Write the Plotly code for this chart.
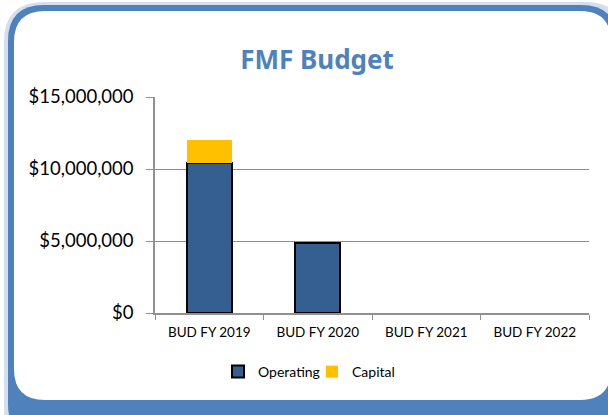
import plotly.graph_objects as go

categories = ["BUD FY 2019", "BUD FY 2020", "BUD FY 2021", "BUD FY 2022"]
operating = [10450000, 4870000, None, None]
capital = [1550000, None, None, None]
y_ticks = [0, 5000000, 10000000, 15000000]
y_tick_labels = ["\u200b$0", "\u200b$5,000,000", "\u200b$10,000,000", "\u200b$15,000,000"]

W, H = 608, 415
L, R, T, B = 155, 19, 97, 102
pw, ph = W - L - R, H - T - B


def px(x):
    return (x - L) / pw


def py(y):
    return (H - B - y) / ph


def rrect(x0, y0, x1, y1, r):
    pts = [
        f"M {px(x0 + r)},{py(y0)}",
        f"L {px(x1 - r)},{py(y0)}",
        f"Q {px(x1)},{py(y0)} {px(x1)},{py(y0 + r)}",
        f"L {px(x1)},{py(y1 - r)}",
        f"Q {px(x1)},{py(y1)} {px(x1 - r)},{py(y1)}",
        f"L {px(x0 + r)},{py(y1)}",
        f"Q {px(x0)},{py(y1)} {px(x0)},{py(y1 - r)}",
        f"L {px(x0)},{py(y0 + r)}",
        f"Q {px(x0)},{py(y0)} {px(x0 + r)},{py(y0)}",
        "Z",
    ]
    return " ".join(pts)


fig = go.Figure()
fig.add_trace(go.Bar(
    x=categories, y=operating, name="Operating", legend="legend",
    marker=dict(color="#365F91", line=dict(color="#000000", width=2)),
))
fig.add_trace(go.Bar(
    x=categories, y=capital, name="Capital", legend="legend2",
    marker=dict(color="#FFC000", line=dict(width=0)),
))

shapes = [
    dict(type="path", path=rrect(4, 2, 625, 450, 40), xref="paper", yref="paper",
         fillcolor="#D3DFEF", line=dict(width=0), layer="below"),
    dict(type="path", path=rrect(8, 5, 617, 440, 36), xref="paper", yref="paper",
         fillcolor="#4F81BD", line=dict(width=0), layer="below"),
    dict(type="path", path=rrect(14, 11, 611, 400, 31), xref="paper", yref="paper",
         fillcolor="#FFFFFF", line=dict(width=0), layer="below"),
]

legend_common = dict(orientation="h", yanchor="middle", y=py(372), xanchor="left",
                     font=dict(size=14), bgcolor="rgba(0,0,0,0)", borderwidth=0)

fig.update_layout(
    width=W, height=H,
    margin=dict(l=L, r=R, t=T, b=B, pad=0),
    paper_bgcolor="#FFFFFF", plot_bgcolor="rgba(0,0,0,0)",
    barmode="stack", bargap=0.585,
    font=dict(family="Lato, sans-serif", color="#000000"),
    title=dict(text="<b>FMF Budget</b>", x=317 / W, xanchor="center",
               y=1 - 60 / H, yanchor="middle",
               font=dict(size=26, color="#4F81BD", family="Noto Sans, sans-serif")),
    shapes=shapes,
    showlegend=True,
    legend=dict(x=px(218), **legend_common),
    legend2=dict(x=px(312), **legend_common),
    xaxis=dict(showline=True, linecolor="#909090", linewidth=1.5,
               ticks="outside", tickson="boundaries", ticklen=5, tickcolor="#909090",
               ticklabelstandoff=6,
               tickfont=dict(size=13.5), showgrid=False),
    yaxis=dict(range=[0, 15000000], tickvals=y_ticks, ticktext=y_tick_labels,
               showline=True, linecolor="#909090", linewidth=1.5,
               ticks="outside", ticklen=7, tickcolor="#909090",
               ticklabelstandoff=9,
               gridcolor="#8C8C8C", gridwidth=1.2, zeroline=False,
               tickfont=dict(size=18.5)),
)

fig.write_html("out.html", config={"displayModeBar": False},
               post_script="document.body.style.margin='0';document.body.style.overflow='hidden';")
